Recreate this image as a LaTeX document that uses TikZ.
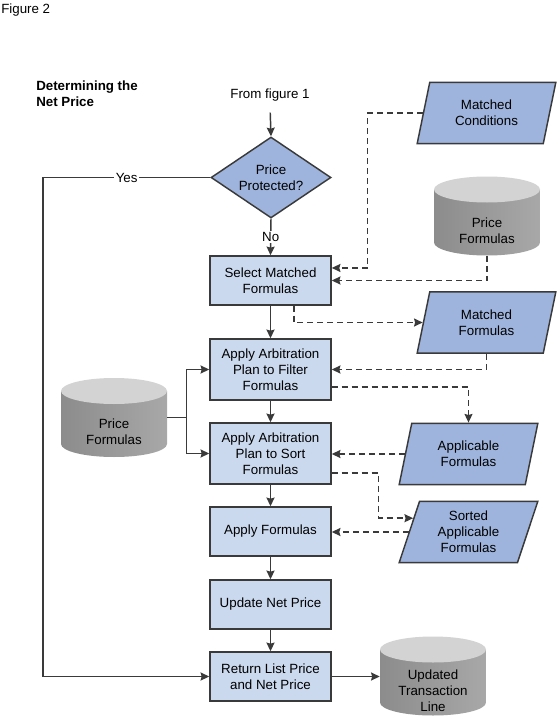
\documentclass[tikz,border=0pt]{standalone}
\usepackage{fontspec}
\setmainfont{Liberation Sans}
\usetikzlibrary{shapes.geometric,arrows.meta,positioning}
\definecolor{boxfill}{HTML}{CBD9EE}
\definecolor{shapefill}{HTML}{9EB4DC}
\definecolor{linegray}{HTML}{3A3A3A}
\definecolor{cylleft}{HTML}{8C8C8C}
\definecolor{cylmid}{HTML}{CDCDCD}
\definecolor{cylright}{HTML}{A8A8A8}
\definecolor{cyltop}{HTML}{D3D3D3}

\begin{document}
\begin{tikzpicture}[x=0.75pt,y=-0.75pt,
  font=\fontsize{10}{12}\selectfont,
  process/.style={draw=linegray,line width=1.1pt,fill=boxfill,rectangle,minimum width=90.75pt,align=center,inner sep=0pt},
  decision/.style={draw=linegray,line width=1.1pt,fill=shapefill,diamond,aspect=1.48,minimum width=90pt,minimum height=60.75pt,inner sep=0pt,align=center},
  iodata/.style={draw=linegray,line width=1.1pt,fill=shapefill,trapezium,trapezium left angle=64,trapezium right angle=116,trapezium stretches body,minimum width=104pt,minimum height=46pt,inner sep=0pt,align=center},
  dbase/.style={rectangle,fill=white,minimum width=79.5pt,minimum height=59.25pt,inner sep=0pt,
    path picture={
      \shade[left color=cylleft,middle color=cylmid,right color=cylright]
        ([yshift=-9.75pt]path picture bounding box.north west) -- ([yshift=9.75pt]path picture bounding box.south west)
        arc[start angle=180,end angle=360,x radius=39.75pt,y radius=9.75pt]
        -- ([yshift=-9.75pt]path picture bounding box.north east) -- cycle;
      \fill[cyltop] ([yshift=-9.75pt]path picture bounding box.north) ellipse[x radius=39.75pt,y radius=9.75pt];
    }},
  flow/.style={draw=linegray,line width=1.1pt,-{Stealth[length=6.5pt,width=6pt,inset=0.8pt]}},
  dflow/.style={flow,dash pattern=on 4.5pt off 3pt},
  link/.style={draw=linegray,line width=1.1pt},
  lbl/.style={fill=white,inner sep=1pt}]
\useasboundingbox (0,0) rectangle (557,717);

\node[anchor=west,inner sep=0pt] (fig) at (1,10) {Figure 2};
\node[anchor=west,align=left,inner sep=0pt,font=\fontsize{10}{12}\selectfont\bfseries] (ttl) at (36,94) {Determining the\\Net Price};
\node (src) at (270,95) {From figure 1};

% main column
\node[decision] (dec) at (271,177.5) {Price\\Protected?};
\node[process,minimum height=36.75pt] (sel) at (270.5,280.5) {Select Matched\\Formulas};
\node[process,minimum height=45.75pt] (filt) at (270.5,369.5) {Apply Arbitration\\Plan to Filter\\Formulas};
\node[process,minimum height=45.75pt] (sort) at (270.5,453.5) {Apply Arbitration\\Plan to Sort\\Formulas};
\node[process,minimum height=36.75pt] (appl) at (270.5,531.5) {Apply Formulas};
\node[process,minimum height=36.75pt] (upd) at (270.5,604.5) {Update Net Price};
\node[process,minimum height=36.75pt] (ret) at (270.5,676.5) {Return List Price\\and Net Price};

% data
\node[iodata] (mc) at (486.5,113) {Matched\\Conditions};
\node[iodata] (mf) at (486.5,322.5) {Matched\\Formulas};
\node[iodata] (app) at (468.5,454) {Applicable\\Formulas};
\node[iodata] (sap) at (468.5,532) {Sorted\\Applicable\\Formulas};

% stores
\node[dbase,label={[align=center,yshift=-11pt]center:Price\\Formulas}] (pfr) at (487,216) {};
\node[dbase,label={[align=center,yshift=-11pt]center:Price\\Formulas}] (pfl) at (114,417.5) {};
\node[dbase,label={[align=center,yshift=-11pt]center:Updated\\Transaction\\Line}] (utl) at (433,676) {};

\coordinate (yesturn) at (43,177.5);

\draw[flow,shorten <=5pt] (src.south) -- (dec.north);
\draw[flow] (dec.south) -- node[lbl]{No} (sel.north);
\draw[flow] (dec.west) -- node[lbl]{Yes} (yesturn) |- (ret.west);
\draw[flow] (sel) -- (filt);
\draw[flow] (filt) -- (sort);
\draw[flow] (sort) -- (appl);
\draw[flow] (appl) -- (upd);
\draw[flow] (upd) -- (ret);
\draw[flow] (ret.east) -- (ret.east -| utl.west);

\draw[link] (pfl.east) -- ++(14.25pt,0) coordinate (fork);
\draw[flow] (fork) |- (filt.west);
\draw[flow] (fork) |- (sort.west);

\draw[dflow] (mc.west) -| ([xshift=27pt,yshift=9.4pt]sel.east) -- ([yshift=9.4pt]sel.east);
\draw[dflow] (pfr.south) |- (sel.east);
\draw[dflow] ([xshift=17.6pt]sel.south) |- (mf.west);
\draw[dflow] (mf.center |- mf.south) |- (filt.east);
\draw[dflow] ([yshift=-13.1pt]filt.east) -| (app.center |- app.north);
\draw[dflow] (app.west) -- (app.west -| sort.east);
\draw[dflow] ([yshift=-14.6pt]sort.east) -- ++(35.25pt,0) |- (sap.166);
\draw[dflow] (sap.west) -- (sap.west -| appl.east);
\end{tikzpicture}
\end{document}
